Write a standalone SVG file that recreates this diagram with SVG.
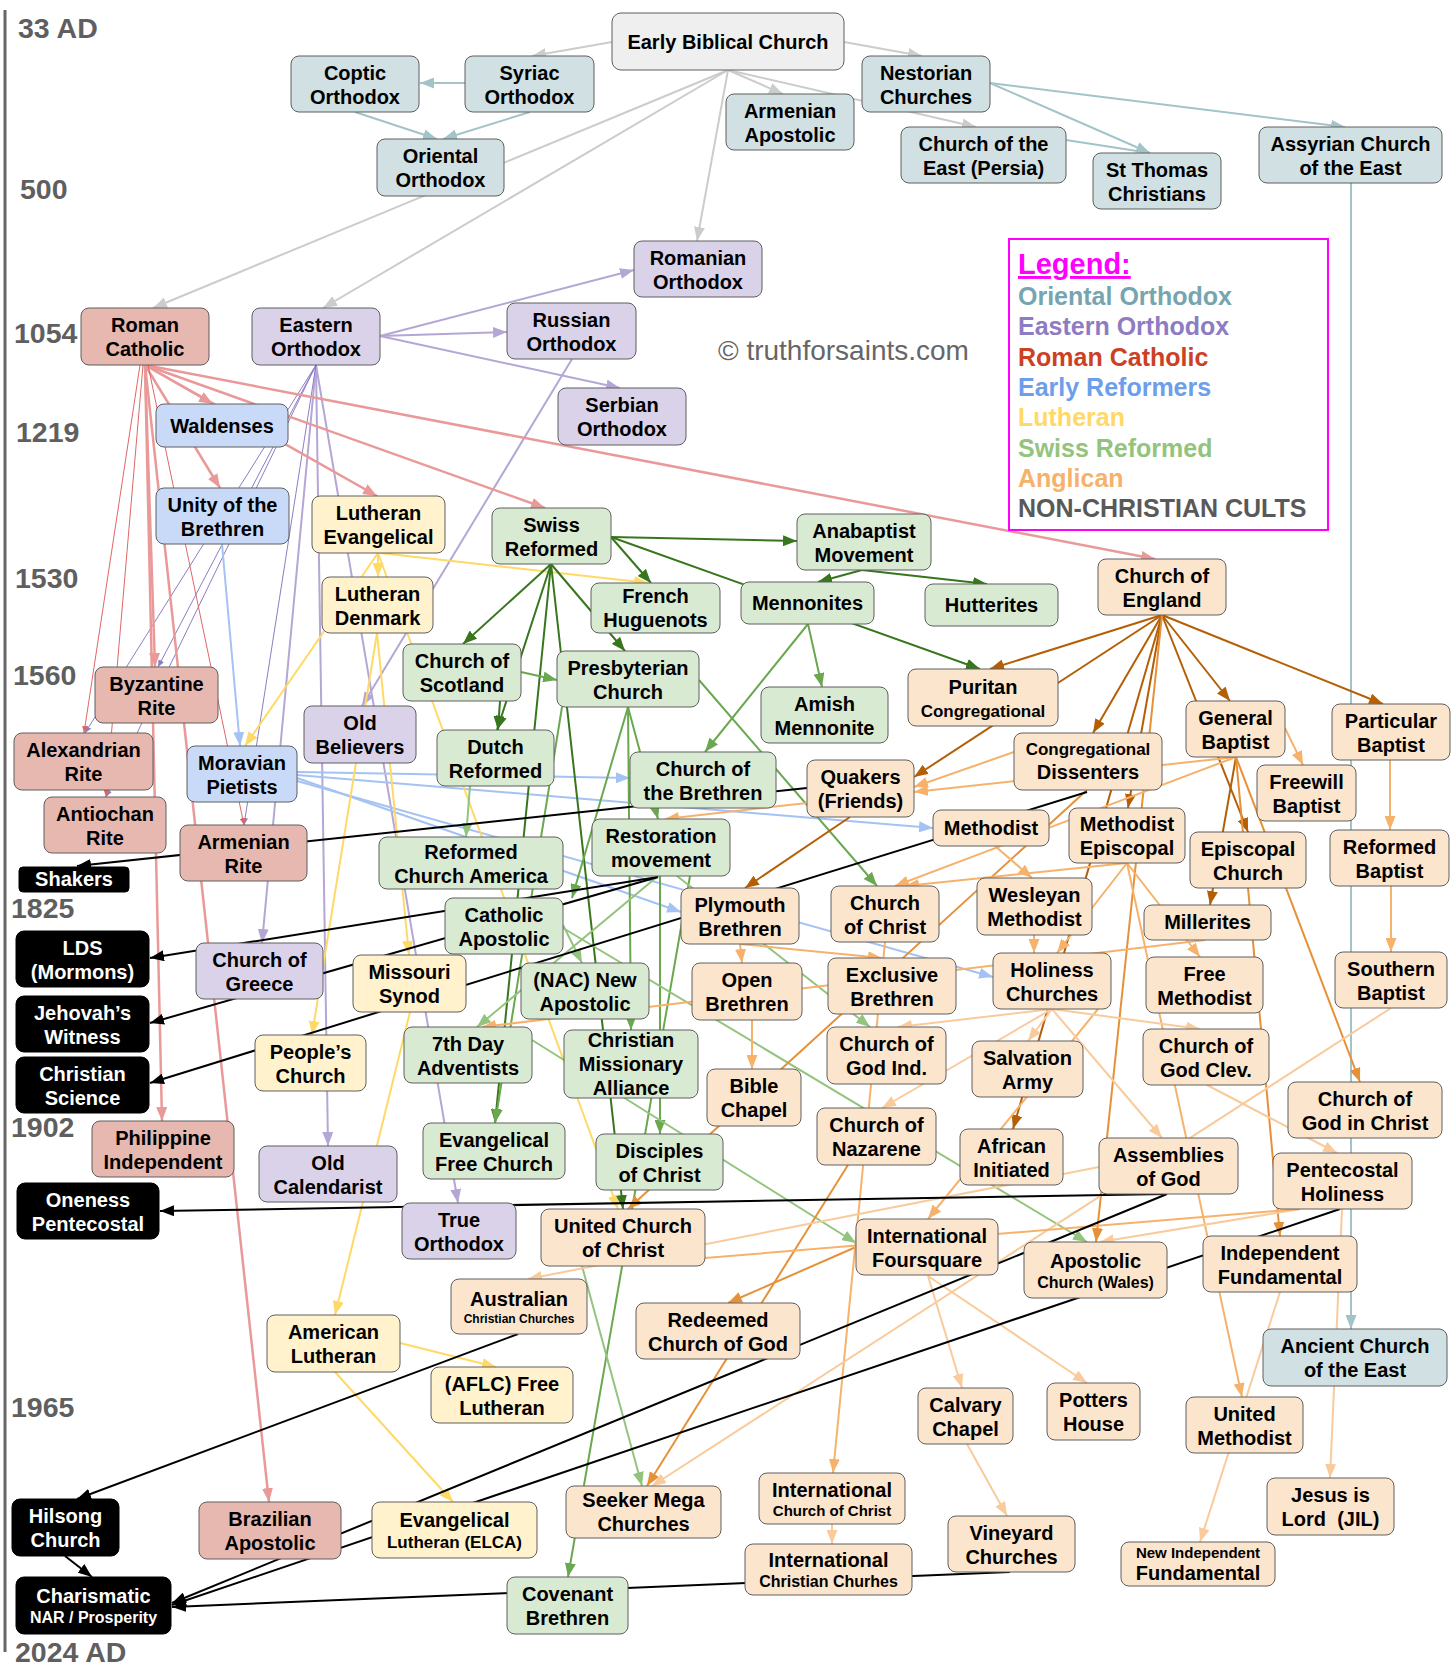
<svg xmlns="http://www.w3.org/2000/svg" width="1456" height="1668" viewBox="0 0 1456 1668">
<defs>
<style>
.n rect{stroke:#5f5f5f;stroke-width:1}
.ebc rect{fill:#efefef}
.or rect{fill:#d0e0e3}
.eo rect{fill:#d9d2e9}
.rc rect{fill:#e6b8af}
.er rect{fill:#c9daf8}
.lu rect{fill:#fff2cc}
.sw rect{fill:#d9ead3}
.an rect{fill:#fce5cd}
.bk rect{fill:#000;stroke:#000}
.n text{font-family:"Liberation Sans",Arial,sans-serif;font-weight:bold;font-size:20px;text-anchor:middle;fill:#000}
.bk text{fill:#fff}
.n text .s17{font-size:17px}
.n text .s16{font-size:16px}
.n text .s15{font-size:15px}
.n text .s12{font-size:12px}
.yr{font-family:"Liberation Sans",Arial,sans-serif;font-weight:bold;font-size:28.5px;fill:#5f5f5f}
.lg{font-family:"Liberation Sans",Arial,sans-serif;font-weight:bold;font-size:25px}
#connectors line{fill:none;stroke-width:2}
.cgr{stroke:#cccccc;marker-end:url(#mgr)}
.ctl{stroke:#a2c4c9;marker-end:url(#mtl)}
.clv{stroke:#b4a7d6;marker-end:url(#mlv)}
.cpu{stroke:#8e7cc3;stroke-width:1px !important;marker-end:url(#mpu)}
.cpk{stroke:#ea9999;stroke-width:2.5px !important;marker-end:url(#mpk)}
.crd{stroke:#e06666;stroke-width:1px !important;marker-end:url(#mrd)}
.cbl{stroke:#a4c2f4;marker-end:url(#mbl)}
.cye{stroke:#ffd966;marker-end:url(#mye)}
.cdg{stroke:#38761d;marker-end:url(#mdg)}
.cmg{stroke:#6aa84f;marker-end:url(#mmg)}
.clg{stroke:#93c47d;marker-end:url(#mlg)}
.cbr{stroke:#b45f06;marker-end:url(#mbr)}
.cor{stroke:#e69138;marker-end:url(#mor)}
.clo{stroke:#f6b26b;marker-end:url(#mlo)}
.cvl{stroke:#f9cb9c;marker-end:url(#mvl)}
.cbk{stroke:#000000;marker-end:url(#mbk)}
.nm{marker-end:none !important}
</style>
<marker id="mgr" viewBox="0 0 14 11" refX="14" refY="5.5" markerWidth="14" markerHeight="11" markerUnits="userSpaceOnUse" orient="auto"><path d="M0,0L14,5.5L0,11z" fill="#cccccc"/></marker>
<marker id="mtl" viewBox="0 0 14 11" refX="14" refY="5.5" markerWidth="14" markerHeight="11" markerUnits="userSpaceOnUse" orient="auto"><path d="M0,0L14,5.5L0,11z" fill="#a2c4c9"/></marker>
<marker id="mlv" viewBox="0 0 14 11" refX="14" refY="5.5" markerWidth="14" markerHeight="11" markerUnits="userSpaceOnUse" orient="auto"><path d="M0,0L14,5.5L0,11z" fill="#b4a7d6"/></marker>
<marker id="mpu" viewBox="0 0 7 6" refX="7" refY="3" markerWidth="7" markerHeight="6" markerUnits="userSpaceOnUse" orient="auto"><path d="M0,0L7,3L0,6z" fill="#8e7cc3"/></marker>
<marker id="mpk" viewBox="0 0 14 11" refX="14" refY="5.5" markerWidth="14" markerHeight="11" markerUnits="userSpaceOnUse" orient="auto"><path d="M0,0L14,5.5L0,11z" fill="#ea9999"/></marker>
<marker id="mrd" viewBox="0 0 7 6" refX="7" refY="3" markerWidth="7" markerHeight="6" markerUnits="userSpaceOnUse" orient="auto"><path d="M0,0L7,3L0,6z" fill="#e06666"/></marker>
<marker id="mbl" viewBox="0 0 14 11" refX="14" refY="5.5" markerWidth="14" markerHeight="11" markerUnits="userSpaceOnUse" orient="auto"><path d="M0,0L14,5.5L0,11z" fill="#a4c2f4"/></marker>
<marker id="mye" viewBox="0 0 14 11" refX="14" refY="5.5" markerWidth="14" markerHeight="11" markerUnits="userSpaceOnUse" orient="auto"><path d="M0,0L14,5.5L0,11z" fill="#ffd966"/></marker>
<marker id="mdg" viewBox="0 0 14 11" refX="14" refY="5.5" markerWidth="14" markerHeight="11" markerUnits="userSpaceOnUse" orient="auto"><path d="M0,0L14,5.5L0,11z" fill="#38761d"/></marker>
<marker id="mmg" viewBox="0 0 14 11" refX="14" refY="5.5" markerWidth="14" markerHeight="11" markerUnits="userSpaceOnUse" orient="auto"><path d="M0,0L14,5.5L0,11z" fill="#6aa84f"/></marker>
<marker id="mlg" viewBox="0 0 14 11" refX="14" refY="5.5" markerWidth="14" markerHeight="11" markerUnits="userSpaceOnUse" orient="auto"><path d="M0,0L14,5.5L0,11z" fill="#93c47d"/></marker>
<marker id="mbr" viewBox="0 0 14 11" refX="14" refY="5.5" markerWidth="14" markerHeight="11" markerUnits="userSpaceOnUse" orient="auto"><path d="M0,0L14,5.5L0,11z" fill="#b45f06"/></marker>
<marker id="mor" viewBox="0 0 14 11" refX="14" refY="5.5" markerWidth="14" markerHeight="11" markerUnits="userSpaceOnUse" orient="auto"><path d="M0,0L14,5.5L0,11z" fill="#e69138"/></marker>
<marker id="mlo" viewBox="0 0 14 11" refX="14" refY="5.5" markerWidth="14" markerHeight="11" markerUnits="userSpaceOnUse" orient="auto"><path d="M0,0L14,5.5L0,11z" fill="#f6b26b"/></marker>
<marker id="mvl" viewBox="0 0 14 11" refX="14" refY="5.5" markerWidth="14" markerHeight="11" markerUnits="userSpaceOnUse" orient="auto"><path d="M0,0L14,5.5L0,11z" fill="#f9cb9c"/></marker>
<marker id="mbk" viewBox="0 0 14 11" refX="14" refY="5.5" markerWidth="14" markerHeight="11" markerUnits="userSpaceOnUse" orient="auto"><path d="M0,0L14,5.5L0,11z" fill="#000000"/></marker>
</defs>
<rect x="0" y="0" width="1456" height="1668" fill="#ffffff"/>

<g id="timeline">
<line x1="5" y1="10" x2="5" y2="1652" stroke="#666666" stroke-width="3"/>
<text class="yr" x="18" y="38">33 AD</text>
<text class="yr" x="20" y="199">500</text>
<text class="yr" x="14" y="343">1054</text>
<text class="yr" x="16" y="442">1219</text>
<text class="yr" x="15" y="588">1530</text>
<text class="yr" x="13" y="685">1560</text>
<text class="yr" x="11" y="918">1825</text>
<text class="yr" x="11" y="1137">1902</text>
<text class="yr" x="11" y="1417">1965</text>
<text class="yr" x="15" y="1662">2024 AD</text>
</g>

<g id="connectors">
<line class="cgr" x1="612" y1="42" x2="532" y2="56"/>
<line class="cgr" x1="844" y1="42" x2="922" y2="56"/>
<line class="cgr" x1="728" y1="70" x2="783" y2="94"/>
<line class="cgr" x1="728" y1="70" x2="976" y2="127"/>
<line class="cgr" x1="728" y1="70" x2="697" y2="241"/>
<line class="cgr" x1="728" y1="70" x2="153" y2="308"/>
<line class="cgr" x1="728" y1="70" x2="323" y2="308"/>
<line class="ctl" x1="465" y1="83" x2="420" y2="83"/>
<line class="ctl" x1="355" y1="112" x2="437" y2="139"/>
<line class="ctl" x1="530" y1="112" x2="443" y2="139"/>
<line class="ctl" x1="990" y1="83" x2="1150" y2="153"/>
<line class="ctl" x1="990" y1="83" x2="1345" y2="127"/>
<line class="ctl nm" x1="1066" y1="140" x2="1150" y2="153"/>
<line class="ctl" x1="1351" y1="183" x2="1351" y2="1329"/>
<line class="clv" x1="380" y1="336" x2="634" y2="270"/>
<line class="clv" x1="380" y1="336" x2="507" y2="332"/>
<line class="clv" x1="380" y1="336" x2="620" y2="388"/>
<line class="clv" x1="572" y1="359" x2="362" y2="706"/>
<line class="clv" x1="316" y1="365" x2="262" y2="943"/>
<line class="clv" x1="316" y1="365" x2="328" y2="1146"/>
<line class="clv" x1="316" y1="365" x2="458" y2="1203"/>
<line class="cpu" x1="316" y1="365" x2="158" y2="667"/>
<line class="cpu" x1="316" y1="365" x2="85" y2="733"/>
<line class="cpu" x1="316" y1="365" x2="106" y2="797"/>
<line class="cpu" x1="316" y1="365" x2="244" y2="825"/>
<line class="cpk" x1="145" y1="365" x2="213" y2="404"/>
<line class="cpk" x1="145" y1="365" x2="220" y2="488"/>
<line class="cpk" x1="145" y1="365" x2="377" y2="496"/>
<line class="cpk" x1="145" y1="365" x2="545" y2="508"/>
<line class="cpk" x1="145" y1="365" x2="1155" y2="559"/>
<line class="cpk" x1="145" y1="365" x2="155" y2="667"/>
<line class="cpk" x1="145" y1="365" x2="162" y2="1121"/>
<line class="cpk" x1="145" y1="365" x2="269" y2="1502"/>
<line class="crd" x1="140" y1="365" x2="84" y2="733"/>
<line class="crd" x1="143" y1="365" x2="106" y2="797"/>
<line class="crd" x1="148" y1="365" x2="244" y2="825"/>
<line class="cbl" x1="222" y1="544" x2="240" y2="746"/>
<line class="cbl" x1="297" y1="772" x2="630" y2="778"/>
<line class="cbl" x1="297" y1="775" x2="933" y2="828"/>
<line class="cbl" x1="297" y1="778" x2="681" y2="912"/>
<line class="cbl" x1="297" y1="781" x2="993" y2="977"/>
<line class="cye" x1="378" y1="553" x2="378" y2="577"/>
<line class="cye" x1="380" y1="553" x2="648" y2="583"/>
<line class="cye" x1="378" y1="553" x2="245" y2="746"/>
<line class="cye" x1="377" y1="633" x2="312" y2="1035"/>
<line class="cye" x1="377" y1="633" x2="409" y2="955"/>
<line class="cye" x1="378" y1="553" x2="618" y2="1209"/>
<line class="cye" x1="410" y1="1012" x2="335" y2="1315"/>
<line class="cye" x1="400" y1="1343" x2="496" y2="1367"/>
<line class="cye" x1="335" y1="1372" x2="453" y2="1502"/>
<line class="cdg" x1="611" y1="537" x2="797" y2="541"/>
<line class="cdg" x1="611" y1="537" x2="651" y2="583"/>
<line class="cdg" x1="611" y1="537" x2="980" y2="669"/>
<line class="cdg" x1="551" y1="564" x2="463" y2="644"/>
<line class="cdg" x1="551" y1="564" x2="625" y2="651"/>
<line class="cdg" x1="551" y1="564" x2="497" y2="730"/>
<line class="cdg" x1="551" y1="564" x2="495" y2="1123"/>
<line class="cdg" x1="551" y1="564" x2="623" y2="1209"/>
<line class="cdg" x1="862" y1="570" x2="818" y2="582"/>
<line class="cdg" x1="862" y1="570" x2="987" y2="584"/>
<line class="cdg" x1="500" y1="701" x2="498" y2="730"/>
<line class="cmg" x1="808" y1="624" x2="705" y2="752"/>
<line class="cmg" x1="808" y1="624" x2="822" y2="687"/>
<line class="cmg" x1="521" y1="672" x2="557" y2="680"/>
<line class="cmg" x1="628" y1="707" x2="658" y2="819"/>
<line class="cmg" x1="699" y1="680" x2="877" y2="886"/>
<line class="cmg" x1="628" y1="707" x2="631" y2="1030"/>
<line class="cmg" x1="562" y1="707" x2="495" y2="1123"/>
<line class="cmg" x1="690" y1="876" x2="568" y2="1577"/>
<line class="cmg" x1="628" y1="707" x2="572" y2="898"/>
<line class="cmg" x1="660" y1="876" x2="660" y2="1134"/>
<line class="clg" x1="582" y1="1266" x2="642" y2="1486"/>
<line class="clg" x1="563" y1="928" x2="1087" y2="1242"/>
<line class="clg" x1="532" y1="1040" x2="856" y2="1243"/>
<line class="clg" x1="563" y1="925" x2="582" y2="963"/>
<line class="clg" x1="658" y1="876" x2="477" y2="1027"/>
<line class="clg" x1="677" y1="876" x2="870" y2="1027"/>
<line class="clg" x1="470" y1="786" x2="466" y2="837"/>
<line class="cbr" x1="1162" y1="615" x2="990" y2="669"/>
<line class="cbr" x1="1162" y1="615" x2="914" y2="777"/>
<line class="cbr" x1="1162" y1="615" x2="1093" y2="733"/>
<line class="cbr" x1="1162" y1="615" x2="1128" y2="808"/>
<line class="cbr" x1="1162" y1="615" x2="1013" y2="1129"/>
<line class="cbr" x1="1162" y1="615" x2="1230" y2="701"/>
<line class="cbr" x1="1162" y1="615" x2="1383" y2="704"/>
<line class="cbr" x1="1162" y1="615" x2="1248" y2="832"/>
<line class="cbr" x1="850" y1="817" x2="745" y2="888"/>
<line class="cbr" x1="1236" y1="757" x2="1210" y2="905"/>
<line class="cor" x1="1162" y1="615" x2="1096" y2="1242"/>
<line class="cor" x1="1087" y1="790" x2="628" y2="1209"/>
<line class="cor" x1="848" y1="1165" x2="647" y2="1486"/>
<line class="cor" x1="1236" y1="757" x2="1280" y2="1236"/>
<line class="cor" x1="1236" y1="757" x2="1360" y2="1082"/>
<line class="cor" x1="856" y1="1247" x2="728" y2="1303"/>
<line class="clo" x1="1014" y1="752" x2="914" y2="787"/>
<line class="clo" x1="1236" y1="757" x2="914" y2="792"/>
<line class="clo" x1="807" y1="803" x2="665" y2="819"/>
<line class="clo" x1="1285" y1="728" x2="1303" y2="765"/>
<line class="clo" x1="1390" y1="760" x2="1390" y2="830"/>
<line class="clo" x1="1391" y1="886" x2="1391" y2="952"/>
<line class="clo" x1="1205" y1="940" x2="482" y2="1027"/>
<line class="clo" x1="1236" y1="757" x2="895" y2="886"/>
<line class="clo" x1="1127" y1="863" x2="905" y2="886"/>
<line class="clo" x1="740" y1="944" x2="742" y2="963"/>
<line class="clo" x1="740" y1="944" x2="882" y2="958"/>
<line class="clo" x1="752" y1="1020" x2="752" y2="1069"/>
<line class="clo" x1="1127" y1="863" x2="1200" y2="957"/>
<line class="clo" x1="1127" y1="863" x2="1057" y2="953"/>
<line class="clo" x1="1127" y1="863" x2="1242" y2="1397"/>
<line class="clo" x1="885" y1="942" x2="833" y2="1473"/>
<line class="clo" x1="995" y1="846" x2="1032" y2="878"/>
<line class="clo" x1="1034" y1="935" x2="1034" y2="953"/>
<line class="clo" x1="1098" y1="1009" x2="928" y2="1219"/>
<line class="cvl" x1="1052" y1="1009" x2="1028" y2="1041"/>
<line class="cvl" x1="1052" y1="1009" x2="898" y2="1027"/>
<line class="cvl" x1="1052" y1="1009" x2="882" y2="1108"/>
<line class="cvl" x1="1052" y1="1009" x2="1200" y2="1029"/>
<line class="cvl" x1="1052" y1="1009" x2="1162" y2="1138"/>
<line class="cvl" x1="1391" y1="1008" x2="652" y2="1486"/>
<line class="cvl" x1="1207" y1="1085" x2="1337" y2="1153"/>
<line class="cvl" x1="1099" y1="1167" x2="528" y2="1279"/>
<line class="cvl" x1="1300" y1="1209" x2="1100" y2="1242"/>
<line class="clo nm" x1="1300" y1="1209" x2="705" y2="1258"/>
<line class="cvl" x1="928" y1="1276" x2="962" y2="1388"/>
<line class="cvl" x1="928" y1="1276" x2="1087" y2="1383"/>
<line class="cvl" x1="967" y1="1444" x2="1007" y2="1516"/>
<line class="cvl" x1="1280" y1="1292" x2="1200" y2="1542"/>
<line class="cvl" x1="1342" y1="1209" x2="1330" y2="1478"/>
<line class="cvl" x1="832" y1="1524" x2="832" y2="1544"/>
<line class="cbk" x1="807" y1="788" x2="77" y2="866"/>
<line class="cbk" x1="658" y1="877" x2="150" y2="958"/>
<line class="cbk" x1="658" y1="877" x2="150" y2="1023"/>
<line class="cbk" x1="1087" y1="792" x2="150" y2="1083"/>
<line class="cbk" x1="1167" y1="1194" x2="160" y2="1211"/>
<line class="cbk" x1="518" y1="1334" x2="77" y2="1499"/>
<line class="cbk" x1="65" y1="1556" x2="92" y2="1577"/>
<line class="cbk" x1="1167" y1="1194" x2="172" y2="1603"/>
<line class="cbk" x1="1340" y1="1209" x2="172" y2="1605"/>
<line class="cbk" x1="1010" y1="1572" x2="172" y2="1607"/>
</g>

<g id="nodes">
<g id="n-ebc" class="n ebc"><rect x="612" y="13" width="232" height="57" rx="9"/><text><tspan x="728" y="49">Early Biblical Church</tspan></text></g>
<g id="n-coptic" class="n or"><rect x="291" y="56" width="128" height="56" rx="8"/><text><tspan x="355" y="80">Coptic</tspan><tspan x="355" y="104">Orthodox</tspan></text></g>
<g id="n-syriac" class="n or"><rect x="465" y="56" width="129" height="56" rx="8"/><text><tspan x="529.5" y="80">Syriac</tspan><tspan x="529.5" y="104">Orthodox</tspan></text></g>
<g id="n-oriental" class="n or"><rect x="377" y="139" width="127" height="57" rx="8"/><text><tspan x="440.5" y="163">Oriental</tspan><tspan x="440.5" y="187">Orthodox</tspan></text></g>
<g id="n-armapost" class="n or"><rect x="726" y="94" width="128" height="56" rx="8"/><text><tspan x="790" y="118">Armenian</tspan><tspan x="790" y="142">Apostolic</tspan></text></g>
<g id="n-nestorian" class="n or"><rect x="862" y="56" width="128" height="56" rx="8"/><text><tspan x="926" y="80">Nestorian</tspan><tspan x="926" y="104">Churches</tspan></text></g>
<g id="n-persia" class="n or"><rect x="901" y="127" width="165" height="56" rx="8"/><text><tspan x="983.5" y="151">Church of the</tspan><tspan x="983.5" y="175">East (Persia)</tspan></text></g>
<g id="n-stthomas" class="n or"><rect x="1093" y="153" width="128" height="56" rx="8"/><text><tspan x="1157" y="177">St Thomas</tspan><tspan x="1157" y="201">Christians</tspan></text></g>
<g id="n-assyrian" class="n or"><rect x="1259" y="127" width="183" height="56" rx="8"/><text><tspan x="1350.5" y="151">Assyrian Church</tspan><tspan x="1350.5" y="175">of the East</tspan></text></g>
<g id="n-romanian" class="n eo"><rect x="634" y="241" width="128" height="56" rx="8"/><text><tspan x="698" y="265">Romanian</tspan><tspan x="698" y="289">Orthodox</tspan></text></g>
<g id="n-russian" class="n eo"><rect x="507" y="303" width="129" height="56" rx="8"/><text><tspan x="571.5" y="327">Russian</tspan><tspan x="571.5" y="351">Orthodox</tspan></text></g>
<g id="n-serbian" class="n eo"><rect x="558" y="388" width="128" height="57" rx="8"/><text><tspan x="622" y="412">Serbian</tspan><tspan x="622" y="436">Orthodox</tspan></text></g>
<g id="n-rc" class="n rc"><rect x="81" y="308" width="128" height="57" rx="8"/><text><tspan x="145" y="332">Roman</tspan><tspan x="145" y="356">Catholic</tspan></text></g>
<g id="n-eo" class="n eo"><rect x="252" y="308" width="128" height="57" rx="8"/><text><tspan x="316" y="332">Eastern</tspan><tspan x="316" y="356">Orthodox</tspan></text></g>
<g id="n-waldenses" class="n er"><rect x="156" y="404" width="132" height="43" rx="8"/><text><tspan x="222" y="433">Waldenses</tspan></text></g>
<g id="n-unity" class="n er"><rect x="156" y="488" width="133" height="56" rx="8"/><text><tspan x="222.5" y="512">Unity of the</tspan><tspan x="222.5" y="536">Brethren</tspan></text></g>
<g id="n-luthev" class="n lu"><rect x="312" y="496" width="133" height="57" rx="8"/><text><tspan x="378.5" y="520">Lutheran</tspan><tspan x="378.5" y="544">Evangelical</tspan></text></g>
<g id="n-luthden" class="n lu"><rect x="322" y="577" width="111" height="56" rx="8"/><text><tspan x="377.5" y="601">Lutheran</tspan><tspan x="377.5" y="625">Denmark</tspan></text></g>
<g id="n-swiss" class="n sw"><rect x="492" y="508" width="119" height="56" rx="8"/><text><tspan x="551.5" y="532">Swiss</tspan><tspan x="551.5" y="556">Reformed</tspan></text></g>
<g id="n-anabaptist" class="n sw"><rect x="797" y="514" width="134" height="56" rx="8"/><text><tspan x="864" y="538">Anabaptist</tspan><tspan x="864" y="562">Movement</tspan></text></g>
<g id="n-huguenots" class="n sw"><rect x="591" y="583" width="129" height="50" rx="8"/><text><tspan x="655.5" y="603">French</tspan><tspan x="655.5" y="627">Huguenots</tspan></text></g>
<g id="n-mennonites" class="n sw"><rect x="741" y="582" width="133" height="42" rx="8"/><text><tspan x="807.5" y="610">Mennonites</tspan></text></g>
<g id="n-hutterites" class="n sw"><rect x="925" y="584" width="133" height="42" rx="8"/><text><tspan x="991.5" y="612">Hutterites</tspan></text></g>
<g id="n-coe" class="n an"><rect x="1098" y="559" width="128" height="56" rx="8"/><text><tspan x="1162" y="583">Church of</tspan><tspan x="1162" y="607">England</tspan></text></g>
<g id="n-byzantine" class="n rc"><rect x="95" y="667" width="123" height="56" rx="8"/><text><tspan x="156.5" y="691">Byzantine</tspan><tspan x="156.5" y="715">Rite</tspan></text></g>
<g id="n-alexandrian" class="n rc"><rect x="14" y="733" width="139" height="57" rx="8"/><text><tspan x="83.5" y="757">Alexandrian</tspan><tspan x="83.5" y="781">Rite</tspan></text></g>
<g id="n-moravian" class="n er"><rect x="187" y="746" width="110" height="56" rx="8"/><text><tspan x="242" y="770">Moravian</tspan><tspan x="242" y="794">Pietists</tspan></text></g>
<g id="n-oldbelievers" class="n eo"><rect x="304" y="706" width="112" height="57" rx="8"/><text><tspan x="360" y="730">Old</tspan><tspan x="360" y="754">Believers</tspan></text></g>
<g id="n-scotland" class="n sw"><rect x="403" y="644" width="118" height="57" rx="8"/><text><tspan x="462" y="668">Church of</tspan><tspan x="462" y="692">Scotland</tspan></text></g>
<g id="n-dutch" class="n sw"><rect x="437" y="730" width="117" height="56" rx="8"/><text><tspan x="495.5" y="754">Dutch</tspan><tspan x="495.5" y="778">Reformed</tspan></text></g>
<g id="n-presbyterian" class="n sw"><rect x="557" y="651" width="142" height="56" rx="8"/><text><tspan x="628" y="675">Presbyterian</tspan><tspan x="628" y="699">Church</tspan></text></g>
<g id="n-amish" class="n sw"><rect x="761" y="687" width="127" height="56" rx="8"/><text><tspan x="824.5" y="711">Amish</tspan><tspan x="824.5" y="735">Mennonite</tspan></text></g>
<g id="n-puritan" class="n an"><rect x="908" y="669" width="150" height="57" rx="8"/><text><tspan x="983" y="694">Puritan</tspan><tspan class="s17" x="983" y="717">Congregational</tspan></text></g>
<g id="n-dissenters" class="n an"><rect x="1014" y="733" width="148" height="57" rx="8"/><text><tspan class="s17" x="1088" y="755">Congregational</tspan><tspan x="1088" y="779">Dissenters</tspan></text></g>
<g id="n-genbaptist" class="n an"><rect x="1186" y="701" width="99" height="56" rx="8"/><text><tspan x="1235.5" y="725">General</tspan><tspan x="1235.5" y="749">Baptist</tspan></text></g>
<g id="n-partbaptist" class="n an"><rect x="1332" y="704" width="118" height="56" rx="8"/><text><tspan x="1391" y="728">Particular</tspan><tspan x="1391" y="752">Baptist</tspan></text></g>
<g id="n-freewill" class="n an"><rect x="1257" y="765" width="99" height="56" rx="8"/><text><tspan x="1306.5" y="789">Freewill</tspan><tspan x="1306.5" y="813">Baptist</tspan></text></g>
<g id="n-cotbrethren" class="n sw"><rect x="630" y="752" width="146" height="56" rx="8"/><text><tspan x="703" y="776">Church of</tspan><tspan x="703" y="800">the Brethren</tspan></text></g>
<g id="n-quakers" class="n an"><rect x="807" y="760" width="107" height="57" rx="8"/><text><tspan x="860.5" y="784">Quakers</tspan><tspan x="860.5" y="808">(Friends)</tspan></text></g>
<g id="n-antiochan" class="n rc"><rect x="44" y="797" width="122" height="56" rx="8"/><text><tspan x="105" y="821">Antiochan</tspan><tspan x="105" y="845">Rite</tspan></text></g>
<g id="n-armrite" class="n rc"><rect x="180" y="825" width="127" height="56" rx="8"/><text><tspan x="243.5" y="849">Armenian</tspan><tspan x="243.5" y="873">Rite</tspan></text></g>
<g id="n-restoration" class="n sw"><rect x="592" y="819" width="138" height="57" rx="8"/><text><tspan x="661" y="843">Restoration</tspan><tspan x="661" y="867">movement</tspan></text></g>
<g id="n-methodist" class="n an"><rect x="933" y="810" width="116" height="36" rx="8"/><text><tspan x="991" y="835">Methodist</tspan></text></g>
<g id="n-methepisc" class="n an"><rect x="1069" y="808" width="116" height="55" rx="8"/><text><tspan x="1127" y="831">Methodist</tspan><tspan x="1127" y="855">Episcopal</tspan></text></g>
<g id="n-episcopal" class="n an"><rect x="1190" y="832" width="116" height="56" rx="8"/><text><tspan x="1248" y="856">Episcopal</tspan><tspan x="1248" y="880">Church</tspan></text></g>
<g id="n-refbaptist" class="n an"><rect x="1330" y="830" width="119" height="56" rx="8"/><text><tspan x="1389.5" y="854">Reformed</tspan><tspan x="1389.5" y="878">Baptist</tspan></text></g>
<g id="n-rca" class="n sw"><rect x="379" y="837" width="184" height="52" rx="8"/><text><tspan x="471" y="859">Reformed</tspan><tspan x="471" y="883">Church America</tspan></text></g>
<g id="n-shakers" class="n bk"><rect x="19" y="867" width="110" height="25" rx="4"/><text><tspan x="74" y="886">Shakers</tspan></text></g>
<g id="n-catholicapost" class="n sw"><rect x="445" y="898" width="118" height="56" rx="8"/><text><tspan x="504" y="922">Catholic</tspan><tspan x="504" y="946">Apostolic</tspan></text></g>
<g id="n-plymouth" class="n an"><rect x="681" y="888" width="118" height="56" rx="8"/><text><tspan x="740" y="912">Plymouth</tspan><tspan x="740" y="936">Brethren</tspan></text></g>
<g id="n-cofchrist" class="n an"><rect x="831" y="886" width="108" height="56" rx="8"/><text><tspan x="885" y="910">Church</tspan><tspan x="885" y="934">of Christ</tspan></text></g>
<g id="n-wesleyan" class="n an"><rect x="977" y="878" width="115" height="57" rx="8"/><text><tspan x="1034.5" y="902">Wesleyan</tspan><tspan x="1034.5" y="926">Methodist</tspan></text></g>
<g id="n-millerites" class="n an"><rect x="1144" y="905" width="127" height="35" rx="8"/><text><tspan x="1207.5" y="929">Millerites</tspan></text></g>
<g id="n-lds" class="n bk"><rect x="16" y="931" width="133" height="56" rx="8"/><text><tspan x="82.5" y="955">LDS</tspan><tspan x="82.5" y="979">(Mormons)</tspan></text></g>
<g id="n-greece" class="n eo"><rect x="196" y="943" width="127" height="56" rx="8"/><text><tspan x="259.5" y="967">Church of</tspan><tspan x="259.5" y="991">Greece</tspan></text></g>
<g id="n-missouri" class="n lu"><rect x="353" y="955" width="113" height="57" rx="8"/><text><tspan x="409.5" y="979">Missouri</tspan><tspan x="409.5" y="1003">Synod</tspan></text></g>
<g id="n-nac" class="n sw"><rect x="521" y="963" width="128" height="56" rx="8"/><text><tspan x="585" y="987">(NAC) New</tspan><tspan x="585" y="1011">Apostolic</tspan></text></g>
<g id="n-openbr" class="n an"><rect x="692" y="963" width="110" height="57" rx="8"/><text><tspan x="747" y="987">Open</tspan><tspan x="747" y="1011">Brethren</tspan></text></g>
<g id="n-exclbr" class="n an"><rect x="828" y="958" width="128" height="56" rx="8"/><text><tspan x="892" y="982">Exclusive</tspan><tspan x="892" y="1006">Brethren</tspan></text></g>
<g id="n-holiness" class="n an"><rect x="993" y="953" width="118" height="56" rx="8"/><text><tspan x="1052" y="977">Holiness</tspan><tspan x="1052" y="1001">Churches</tspan></text></g>
<g id="n-freemeth" class="n an"><rect x="1146" y="957" width="117" height="56" rx="8"/><text><tspan x="1204.5" y="981">Free</tspan><tspan x="1204.5" y="1005">Methodist</tspan></text></g>
<g id="n-southbapt" class="n an"><rect x="1335" y="952" width="112" height="56" rx="8"/><text><tspan x="1391" y="976">Southern</tspan><tspan x="1391" y="1000">Baptist</tspan></text></g>
<g id="n-jw" class="n bk"><rect x="16" y="996" width="133" height="56" rx="8"/><text><tspan x="82.5" y="1020">Jehovah’s</tspan><tspan x="82.5" y="1044">Witness</tspan></text></g>
<g id="n-peoples" class="n lu"><rect x="255" y="1035" width="111" height="56" rx="8"/><text><tspan x="310.5" y="1059">People’s</tspan><tspan x="310.5" y="1083">Church</tspan></text></g>
<g id="n-adventists" class="n sw"><rect x="404" y="1027" width="128" height="56" rx="8"/><text><tspan x="468" y="1051">7th Day</tspan><tspan x="468" y="1075">Adventists</tspan></text></g>
<g id="n-cma" class="n sw"><rect x="564" y="1030" width="134" height="68" rx="8"/><text><tspan x="631" y="1047">Christian</tspan><tspan x="631" y="1071">Missionary</tspan><tspan x="631" y="1095">Alliance</tspan></text></g>
<g id="n-biblechapel" class="n an"><rect x="707" y="1069" width="94" height="57" rx="8"/><text><tspan x="754" y="1093">Bible</tspan><tspan x="754" y="1117">Chapel</tspan></text></g>
<g id="n-cogind" class="n an"><rect x="827" y="1027" width="119" height="57" rx="8"/><text><tspan x="886.5" y="1051">Church of</tspan><tspan x="886.5" y="1075">God Ind.</tspan></text></g>
<g id="n-salvation" class="n an"><rect x="972" y="1041" width="111" height="56" rx="8"/><text><tspan x="1027.5" y="1065">Salvation</tspan><tspan x="1027.5" y="1089">Army</tspan></text></g>
<g id="n-cogclev" class="n an"><rect x="1143" y="1029" width="126" height="56" rx="8"/><text><tspan x="1206" y="1053">Church of</tspan><tspan x="1206" y="1077">God Clev.</tspan></text></g>
<g id="n-chrscience" class="n bk"><rect x="16" y="1057" width="133" height="56" rx="8"/><text><tspan x="82.5" y="1081">Christian</tspan><tspan x="82.5" y="1105">Science</tspan></text></g>
<g id="n-philippine" class="n rc"><rect x="92" y="1121" width="142" height="56" rx="8"/><text><tspan x="163" y="1145">Philippine</tspan><tspan x="163" y="1169">Independent</tspan></text></g>
<g id="n-efc" class="n sw"><rect x="423" y="1123" width="142" height="56" rx="8"/><text><tspan x="494" y="1147">Evangelical</tspan><tspan x="494" y="1171">Free Church</tspan></text></g>
<g id="n-nazarene" class="n an"><rect x="817" y="1108" width="119" height="57" rx="8"/><text><tspan x="876.5" y="1132">Church of</tspan><tspan x="876.5" y="1156">Nazarene</tspan></text></g>
<g id="n-oldcal" class="n eo"><rect x="259" y="1146" width="138" height="56" rx="8"/><text><tspan x="328" y="1170">Old</tspan><tspan x="328" y="1194">Calendarist</tspan></text></g>
<g id="n-disciples" class="n sw"><rect x="596" y="1134" width="127" height="56" rx="8"/><text><tspan x="659.5" y="1158">Disciples</tspan><tspan x="659.5" y="1182">of Christ</tspan></text></g>
<g id="n-african" class="n an"><rect x="960" y="1129" width="103" height="56" rx="8"/><text><tspan x="1011.5" y="1153">African</tspan><tspan x="1011.5" y="1177">Initiated</tspan></text></g>
<g id="n-aog" class="n an"><rect x="1099" y="1138" width="139" height="56" rx="8"/><text><tspan x="1168.5" y="1162">Assemblies</tspan><tspan x="1168.5" y="1186">of God</tspan></text></g>
<g id="n-cogic" class="n an"><rect x="1288" y="1082" width="154" height="56" rx="8"/><text><tspan x="1365" y="1106">Church of</tspan><tspan x="1365" y="1130">God in Christ</tspan></text></g>
<g id="n-pentholi" class="n an"><rect x="1273" y="1153" width="139" height="56" rx="8"/><text><tspan x="1342.5" y="1177">Pentecostal</tspan><tspan x="1342.5" y="1201">Holiness</tspan></text></g>
<g id="n-oneness" class="n bk"><rect x="17" y="1183" width="142" height="56" rx="8"/><text><tspan x="88" y="1207">Oneness</tspan><tspan x="88" y="1231">Pentecostal</tspan></text></g>
<g id="n-trueorth" class="n eo"><rect x="402" y="1203" width="114" height="56" rx="8"/><text><tspan x="459" y="1227">True</tspan><tspan x="459" y="1251">Orthodox</tspan></text></g>
<g id="n-ucc" class="n an"><rect x="541" y="1209" width="164" height="57" rx="8"/><text><tspan x="623" y="1233">United Church</tspan><tspan x="623" y="1257">of Christ</tspan></text></g>
<g id="n-foursquare" class="n an"><rect x="856" y="1219" width="142" height="56" rx="8"/><text><tspan x="927" y="1243">International</tspan><tspan x="927" y="1267">Foursquare</tspan></text></g>
<g id="n-apostwales" class="n an"><rect x="1024" y="1242" width="143" height="56" rx="8"/><text><tspan x="1095.5" y="1268">Apostolic</tspan><tspan class="s16" x="1095.5" y="1288">Church (Wales)</tspan></text></g>
<g id="n-indfund" class="n an"><rect x="1203" y="1236" width="154" height="56" rx="8"/><text><tspan x="1280" y="1260">Independent</tspan><tspan x="1280" y="1284">Fundamental</tspan></text></g>
<g id="n-australian" class="n an"><rect x="451" y="1279" width="136" height="55" rx="8"/><text><tspan x="519" y="1306">Australian</tspan><tspan class="s12" x="519" y="1323">Christian Churches</tspan></text></g>
<g id="n-redeemed" class="n an"><rect x="636" y="1303" width="164" height="56" rx="8"/><text><tspan x="718" y="1327">Redeemed</tspan><tspan x="718" y="1351">Church of God</tspan></text></g>
<g id="n-amlutheran" class="n lu"><rect x="267" y="1315" width="133" height="57" rx="8"/><text><tspan x="333.5" y="1339">American</tspan><tspan x="333.5" y="1363">Lutheran</tspan></text></g>
<g id="n-ancient" class="n or"><rect x="1263" y="1329" width="184" height="57" rx="8"/><text><tspan x="1355" y="1353">Ancient Church</tspan><tspan x="1355" y="1377">of the East</tspan></text></g>
<g id="n-aflc" class="n lu"><rect x="431" y="1367" width="142" height="56" rx="8"/><text><tspan x="502" y="1391">(AFLC) Free</tspan><tspan x="502" y="1415">Lutheran</tspan></text></g>
<g id="n-calvary" class="n an"><rect x="918" y="1388" width="95" height="56" rx="8"/><text><tspan x="965.5" y="1412">Calvary</tspan><tspan x="965.5" y="1436">Chapel</tspan></text></g>
<g id="n-potters" class="n an"><rect x="1047" y="1383" width="93" height="57" rx="8"/><text><tspan x="1093.5" y="1407">Potters</tspan><tspan x="1093.5" y="1431">House</tspan></text></g>
<g id="n-unitedmeth" class="n an"><rect x="1186" y="1397" width="117" height="56" rx="8"/><text><tspan x="1244.5" y="1421">United</tspan><tspan x="1244.5" y="1445">Methodist</tspan></text></g>
<g id="n-icc" class="n an"><rect x="759" y="1473" width="146" height="51" rx="8"/><text><tspan x="832" y="1497">International</tspan><tspan class="s15" x="832" y="1516">Church of Christ</tspan></text></g>
<g id="n-jil" class="n an"><rect x="1267" y="1478" width="127" height="57" rx="8"/><text><tspan x="1330.5" y="1502">Jesus is</tspan><tspan x="1330.5" y="1526">Lord&#160; (JIL)</tspan></text></g>
<g id="n-seeker" class="n an"><rect x="566" y="1486" width="155" height="52" rx="8"/><text><tspan x="643.5" y="1507">Seeker Mega</tspan><tspan x="643.5" y="1531">Churches</tspan></text></g>
<g id="n-hilsong" class="n bk"><rect x="12" y="1499" width="107" height="57" rx="8"/><text><tspan x="65.5" y="1523">Hilsong</tspan><tspan x="65.5" y="1547">Church</tspan></text></g>
<g id="n-brazilian" class="n rc"><rect x="199" y="1502" width="142" height="57" rx="8"/><text><tspan x="270" y="1526">Brazilian</tspan><tspan x="270" y="1550">Apostolic</tspan></text></g>
<g id="n-elca" class="n lu"><rect x="372" y="1502" width="165" height="56" rx="8"/><text><tspan x="454.5" y="1527">Evangelical</tspan><tspan class="s17" x="454.5" y="1548">Lutheran (ELCA)</tspan></text></g>
<g id="n-vineyard" class="n an"><rect x="948" y="1516" width="127" height="56" rx="8"/><text><tspan x="1011.5" y="1540">Vineyard</tspan><tspan x="1011.5" y="1564">Churches</tspan></text></g>
<g id="n-nif" class="n an"><rect x="1121" y="1542" width="154" height="44" rx="8"/><text><tspan class="s15" x="1198" y="1558">New Independent</tspan><tspan x="1198" y="1580">Fundamental</tspan></text></g>
<g id="n-icch" class="n an"><rect x="745" y="1544" width="167" height="51" rx="8"/><text><tspan x="828.5" y="1567">International</tspan><tspan class="s16" x="828.5" y="1587">Christian Churhes</tspan></text></g>
<g id="n-charismatic" class="n bk"><rect x="16" y="1577" width="155" height="57" rx="8"/><text><tspan x="93.5" y="1603">Charismatic</tspan><tspan class="s16" x="93.5" y="1623">NAR / Prosperity</tspan></text></g>
<g id="n-covenant" class="n sw"><rect x="507" y="1577" width="121" height="57" rx="8"/><text><tspan x="567.5" y="1601">Covenant</tspan><tspan x="567.5" y="1625">Brethren</tspan></text></g>
</g>

<g id="watermark">
<text x="718" y="360" font-family="'Liberation Sans', Arial, sans-serif" font-size="28" fill="#666666">© truthforsaints.com</text>
</g>

<g id="legend">
<rect x="1009" y="239" width="319" height="291" fill="#ffffff" stroke="#ff00ff" stroke-width="2"/>
<text class="lg" x="1018" y="274" fill="#ff00ff" text-decoration="underline" style="font-size:29px">Legend:</text>
<text class="lg" x="1018" y="305" fill="#76a5af">Oriental Orthodox</text>
<text class="lg" x="1018" y="335" fill="#8e7cc3">Eastern Orthodox</text>
<text class="lg" x="1018" y="366" fill="#cc4125">Roman Catholic</text>
<text class="lg" x="1018" y="396" fill="#6d9eeb">Early Reformers</text>
<text class="lg" x="1018" y="426" fill="#ffd966">Lutheran</text>
<text class="lg" x="1018" y="457" fill="#93c47d">Swiss Reformed</text>
<text class="lg" x="1018" y="487" fill="#f6b26b">Anglican</text>
<text class="lg" x="1018" y="517" fill="#595959">NON-CHRISTIAN CULTS</text>
</g>
</svg>
